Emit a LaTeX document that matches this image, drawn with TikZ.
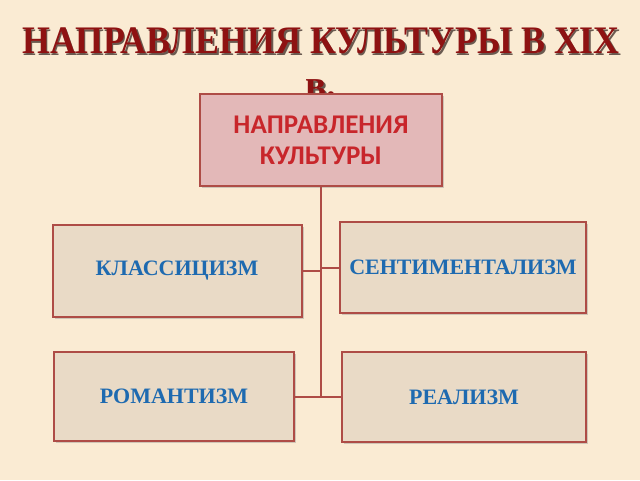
\documentclass[tikz,border=0pt]{standalone}
\usepackage{fontspec}
\setmainfont{Liberation Serif}
\newfontfamily\carl{Carlito}
\usetikzlibrary{shadows}
\definecolor{bg}{HTML}{FAEBD3}
\definecolor{boxfill}{HTML}{E9DAC6}
\definecolor{topfill}{HTML}{E3B8B8}
\definecolor{edge}{HTML}{AE4C46}
\definecolor{bluetxt}{HTML}{1E6AB0}
\definecolor{redtxt}{HTML}{C8262B}
\definecolor{titlered}{HTML}{8E1212}
\definecolor{tshadow}{HTML}{6A5A50}
\newcommand{\withshadow}[2]{\leavevmode\rlap{\kern2pt\raisebox{-2pt}{\textcolor{#1}{#2}}}#2}
\tikzset{
  box/.style={draw=edge, line width=2pt, fill=boxfill, rectangle, inner sep=0pt,
    drop shadow={shadow xshift=2pt, shadow yshift=-2pt, opacity=0.35}},
  topbox/.style={box, fill=topfill},
  btxt/.style={font=\fontsize{22}{24}\selectfont\bfseries, text=bluetxt},
  link/.style={draw=edge, line width=2pt},
  ttl/.style={font=\fontsize{39}{44}\selectfont\bfseries, text=titlered, inner sep=0pt}
}
\begin{document}
\begin{tikzpicture}[x=1pt,y=-1pt]
\useasboundingbox (0,0) rectangle (640,480);
\fill[bg] (0,0) rectangle (640,480);
% title
\node[ttl, anchor=base] (title) at (321,53)
  {\scalebox{0.92}[1]{\withshadow{tshadow}{НАПРАВЛЕНИЯ КУЛЬТУРЫ В XIX}}};
\node[ttl, anchor=base] (title2) at (321,97) {\withshadow{tshadow}{в.}};
% boxes
\node[topbox, minimum width=242pt, minimum height=92pt, align=center,
  font=\carl\fontsize{27}{31}\selectfont\bfseries, text=redtxt] (top) at (321,140)
  {НАПРАВЛЕНИЯ\\КУЛЬТУРЫ};
\node[box, minimum width=249pt, minimum height=92pt, btxt] (klass) at (177,271) {КЛАССИЦИЗМ};
\node[box, minimum width=246pt, minimum height=91pt, btxt] (sent) at (463,267.5) {СЕНТИМЕНТАЛИЗМ};
\node[box, minimum width=240pt, minimum height=89pt, btxt] (rom) at (174,396.5) {РОМАНТИЗМ};
\node[box, minimum width=244pt, minimum height=90pt, btxt] (real) at (464,397) {РЕАЛИЗМ};
% connectors
\coordinate (trunkend) at (top.south |- rom.east);
\draw[link] (top.south) -- (trunkend);
\draw[link] (klass.east) -- (klass.east -| top.south);
\draw[link] (sent.west) -- (sent.west -| top.south);
\draw[link] (rom.east) -- (trunkend);
\draw[link] (real.west) -- (real.west -| top.south);
\end{tikzpicture}
\end{document}
